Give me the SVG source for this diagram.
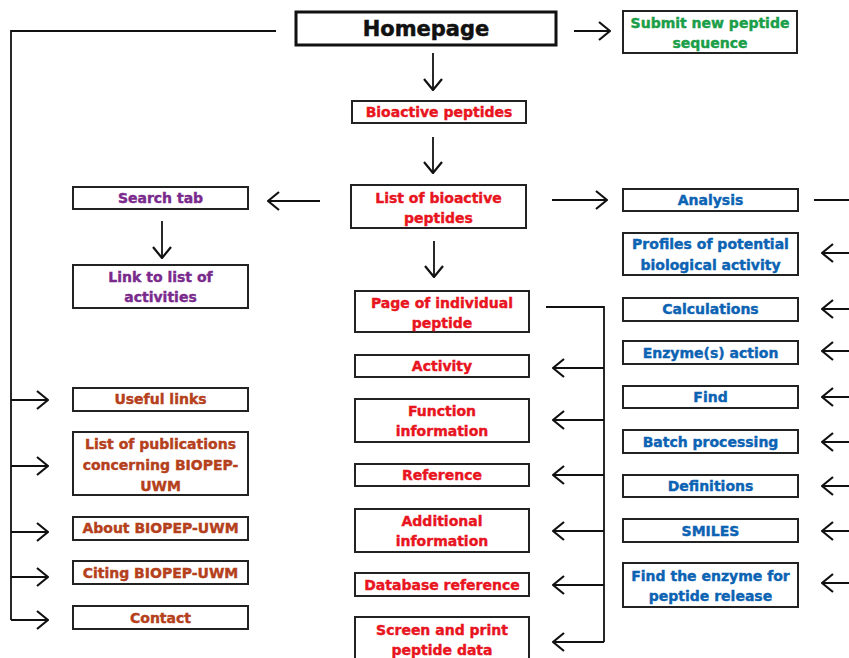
<svg xmlns="http://www.w3.org/2000/svg" width="849" height="658" viewBox="0 0 849 658">
<defs>
<marker id="ah" viewBox="0 0 13 20" refX="12" refY="10" markerWidth="13" markerHeight="20" markerUnits="userSpaceOnUse" orient="auto">
<path d="M1,1 L12,10 L1,19" fill="none" stroke="#111" stroke-width="2.2"/>
</marker>
<style>
.box{fill:#fff;stroke:#222;stroke-width:2}
.t{font-family:"DejaVu Sans",Verdana,sans-serif;font-weight:bold;font-size:14px;text-anchor:middle;stroke-width:0.4px}
.red{fill:#e8141e;stroke:#e8141e}.blue{fill:#0c63b3;stroke:#0c63b3}.brown{fill:#b5401c;stroke:#b5401c}.purple{fill:#7a2a8c;stroke:#7a2a8c}.green{fill:#1a9e48;stroke:#1a9e48}
.c line,.c polyline{stroke:#111;stroke-width:1.8;fill:none}
.a{marker-end:url(#ah)}
</style>
</defs>
<rect width="849" height="658" fill="#fff"/>

<g id="connectors" class="c">
<polyline points="276,31 11,31 11,620"/>
<line class="a" x1="574" y1="31" x2="610" y2="31"/>
<line class="a" x1="433" y1="53" x2="433" y2="90"/>
<line class="a" x1="433" y1="137" x2="433" y2="173"/>
<line class="a" x1="320" y1="201" x2="268" y2="201"/>
<line class="a" x1="552" y1="200" x2="607" y2="200"/>
<line class="a" x1="434" y1="241" x2="434" y2="277"/>
<line class="a" x1="162" y1="221" x2="162" y2="258"/>
<line x1="814" y1="200" x2="849" y2="200"/>
<line class="a" x1="11" y1="400" x2="48" y2="400"/>
<line class="a" x1="11" y1="466" x2="48" y2="466"/>
<line class="a" x1="11" y1="532" x2="48" y2="532"/>
<line class="a" x1="11" y1="577" x2="48" y2="577"/>
<line class="a" x1="11" y1="620" x2="48" y2="620"/>
<polyline points="546,307 604,307 604,642"/>
<line class="a" x1="604" y1="368" x2="553" y2="368"/>
<line class="a" x1="604" y1="420" x2="553" y2="420"/>
<line class="a" x1="604" y1="475" x2="553" y2="475"/>
<line class="a" x1="604" y1="531" x2="553" y2="531"/>
<line class="a" x1="604" y1="585" x2="553" y2="585"/>
<line class="a" x1="604" y1="642" x2="553" y2="642"/>
<line class="a" x1="860" y1="253" x2="822" y2="253"/>
<line class="a" x1="860" y1="309" x2="822" y2="309"/>
<line class="a" x1="860" y1="351" x2="822" y2="351"/>
<line class="a" x1="860" y1="397" x2="822" y2="397"/>
<line class="a" x1="860" y1="442" x2="822" y2="442"/>
<line class="a" x1="860" y1="486" x2="822" y2="486"/>
<line class="a" x1="860" y1="531" x2="822" y2="531"/>
<line class="a" x1="860" y1="583" x2="822" y2="583"/>
</g>

<g id="homepage"><rect x="296" y="12" width="260" height="33" fill="#fff" stroke="#111" stroke-width="3"/><text class="t" x="426" y="36" style="font-size:21px;fill:#111;stroke:#111;stroke-width:0.5px">Homepage</text></g>
<g id="submit"><rect class="box" x="623" y="11" width="174" height="42"/><text class="t green" x="710" y="28">Submit new peptide</text><text class="t green" x="710" y="48">sequence</text></g>
<g id="bioactive"><rect class="box" x="352" y="101" width="174" height="22"/><text class="t red" x="439" y="117">Bioactive peptides</text></g>
<g id="list"><rect class="box" x="351" y="185" width="175" height="43"/><text class="t red" x="438.5" y="203">List of bioactive</text><text class="t red" x="438.5" y="223">peptides</text></g>
<g id="search"><rect class="box" x="73" y="187" width="175" height="22"/><text class="t purple" x="160.5" y="203">Search tab</text></g>
<g id="linklist"><rect class="box" x="73" y="265" width="175" height="43"/><text class="t purple" x="160.5" y="282">Link to list of</text><text class="t purple" x="160.5" y="302">activities</text></g>

<g id="useful"><rect class="box" x="73" y="388" width="175" height="23"/><text class="t brown" x="160.5" y="404">Useful links</text></g>
<g id="publications"><rect class="box" x="73" y="432" width="175" height="63"/><text class="t brown" x="160.5" y="449">List of publications</text><text class="t brown" x="160.5" y="470">concerning BIOPEP-</text><text class="t brown" x="160.5" y="491">UWM</text></g>
<g id="about"><rect class="box" x="73" y="517" width="175" height="23"/><text class="t brown" x="160.5" y="533">About BIOPEP-UWM</text></g>
<g id="citing"><rect class="box" x="73" y="561" width="175" height="23"/><text class="t brown" x="160.5" y="578">Citing BIOPEP-UWM</text></g>
<g id="contact"><rect class="box" x="73" y="606" width="175" height="23"/><text class="t brown" x="160.5" y="623">Contact</text></g>

<g id="page"><rect class="box" x="355" y="291" width="174" height="41"/><text class="t red" x="442" y="308">Page of individual</text><text class="t red" x="442" y="328">peptide</text></g>
<g id="activity"><rect class="box" x="355" y="355" width="174" height="22"/><text class="t red" x="442" y="371">Activity</text></g>
<g id="function"><rect class="box" x="355" y="399" width="174" height="43"/><text class="t red" x="442" y="416">Function</text><text class="t red" x="442" y="436">information</text></g>
<g id="reference"><rect class="box" x="355" y="464" width="174" height="22"/><text class="t red" x="442" y="480">Reference</text></g>
<g id="additional"><rect class="box" x="355" y="509" width="174" height="43"/><text class="t red" x="442" y="526">Additional</text><text class="t red" x="442" y="546">information</text></g>
<g id="database"><rect class="box" x="355" y="573" width="174" height="23"/><text class="t red" x="442" y="590">Database reference</text></g>
<g id="screen"><rect class="box" x="355" y="617" width="174" height="50"/><text class="t red" x="442" y="635">Screen and print</text><text class="t red" x="442" y="655">peptide data</text></g>

<g id="analysis"><rect class="box" x="623" y="189" width="175" height="22"/><text class="t blue" x="710.5" y="205">Analysis</text></g>
<g id="profiles"><rect class="box" x="623" y="233" width="175" height="42"/><text class="t blue" x="710.5" y="249">Profiles of potential</text><text class="t blue" x="710.5" y="270">biological activity</text></g>
<g id="calculations"><rect class="box" x="623" y="298" width="175" height="23"/><text class="t blue" x="710.5" y="314">Calculations</text></g>
<g id="enzyme"><rect class="box" x="623" y="341" width="175" height="23"/><text class="t blue" x="710.5" y="358">Enzyme(s) action</text></g>
<g id="find"><rect class="box" x="623" y="386" width="175" height="22"/><text class="t blue" x="710.5" y="402">Find</text></g>
<g id="batch"><rect class="box" x="623" y="430" width="175" height="23"/><text class="t blue" x="710.5" y="447">Batch processing</text></g>
<g id="definitions"><rect class="box" x="623" y="475" width="175" height="22"/><text class="t blue" x="710.5" y="491">Definitions</text></g>
<g id="smiles"><rect class="box" x="623" y="519" width="175" height="23"/><text class="t blue" x="710.5" y="536">SMILES</text></g>
<g id="findenzyme"><rect class="box" x="623" y="563" width="175" height="44"/><text class="t blue" x="710.5" y="581">Find the enzyme for</text><text class="t blue" x="710.5" y="601">peptide release</text></g>
</svg>
